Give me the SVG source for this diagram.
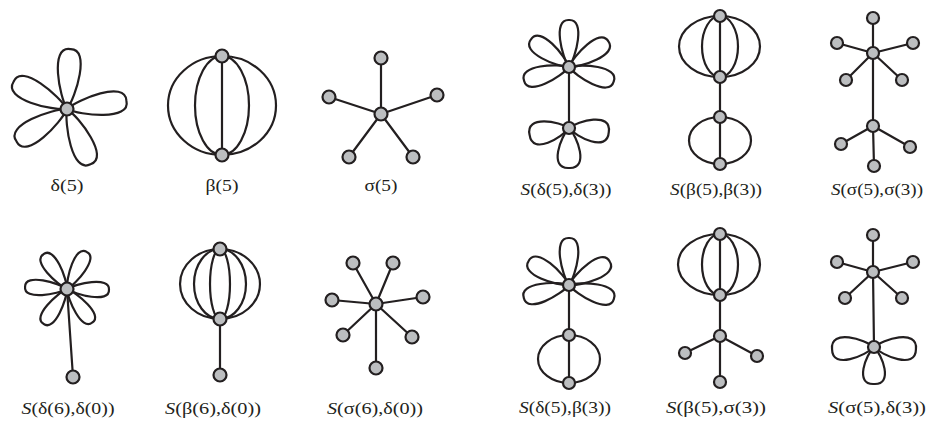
<svg xmlns="http://www.w3.org/2000/svg" xmlns:xlink="http://www.w3.org/1999/xlink" width="928" height="425" viewBox="0 0 928 425">
<style>
.e{fill:none;stroke:#231f20;stroke-width:2.2;stroke-linecap:round}
.v{fill:#bcbec0;stroke:#231f20;stroke-width:2.2}
.t{font-family:"Liberation Serif","Times New Roman",serif;font-size:17px;fill:#231f20;text-anchor:middle}
.i{font-style:italic}
</style>
<defs>
<path id="p60" d="M0,0 C12,-8 62,-21 60,0 C62,21 12,8 0,0"/>
<path id="p47" d="M0,0 C9.4,-6.8 48,-17 47,0 C48,17 9.4,6.8 0,0"/>
<path id="p40" d="M0,0 C8,-8 41,-21 40,0 C41,21 8,8 0,0"/>
<path id="p42" d="M0,0 C8.4,-8 43,-21 42,0 C43,21 8.4,8 0,0"/>
<path id="p37" d="M0,0 C7.4,-8 38,-20 37,0 C38,20 7.4,8 0,0"/>
<path id="p6" d="M0,0 C8.4,-5.6 43,-14 42,0 C43,14 8.4,5.6 0,0"/>
</defs>
<rect width="928" height="425" fill="#fff"/>

<!-- delta(5) -->
<g id="delta5">
<g class="edges e">
<use href="#p60" transform="translate(67,109) rotate(-87)"/>
<use href="#p60" transform="translate(67,109) rotate(-153)"/>
<use href="#p60" transform="translate(67,109) rotate(-8)"/>
<use href="#p60" transform="translate(67,109) rotate(-213)"/>
<use href="#p60" transform="translate(67,109) rotate(-293)"/>
</g>
<circle class="v" cx="67" cy="109" r="6.5"/>
<text class="t" x="67" y="191" textLength="33" lengthAdjust="spacingAndGlyphs">δ(5)</text>
</g>

<!-- beta(5) -->
<g id="beta5">
<g class="edges e">
<path d="M222,56 L222,155"/>
<path d="M222,56 A27,49.5 0 0 1 222,155"/>
<path d="M222,56 A27,49.5 0 0 0 222,155"/>
<path d="M222,56 A54,49.5 0 0 1 222,155"/>
<path d="M222,56 A54,49.5 0 0 0 222,155"/>
</g>
<circle class="v" cx="222" cy="56" r="6.5"/>
<circle class="v" cx="222" cy="155" r="6.5"/>
<text class="t" x="222" y="191" textLength="33" lengthAdjust="spacingAndGlyphs">β(5)</text>
</g>

<!-- sigma(5) -->
<g id="sigma5">
<g class="edges e">
<path d="M381,114 L381,58 M381,114 L329,97 M381,114 L437,95 M381,114 L349,157 M381,114 L413,157"/>
</g>
<circle class="v" cx="381" cy="114" r="6.5"/>
<circle class="v" cx="381" cy="58" r="6.5"/>
<circle class="v" cx="329" cy="97" r="6.5"/>
<circle class="v" cx="437" cy="95" r="6.5"/>
<circle class="v" cx="349" cy="157" r="6.5"/>
<circle class="v" cx="413" cy="157" r="6.5"/>
<text class="t" x="381" y="191" textLength="33" lengthAdjust="spacingAndGlyphs">σ(5)</text>
</g>

<!-- S(delta5,delta3) -->
<g id="S-d5-d3">
<g class="edges e">
<use href="#p47" transform="translate(569,67) rotate(-90)"/>
<use href="#p47" transform="translate(569,67) rotate(-33)"/>
<use href="#p47" transform="translate(569,67) rotate(18)"/>
<use href="#p47" transform="translate(569,67) rotate(-197)"/>
<use href="#p47" transform="translate(569,67) rotate(-144)"/>
<path d="M569,67 L569,128"/>
<use href="#p40" transform="translate(569,128) rotate(-190)"/>
<use href="#p40" transform="translate(569,128) rotate(6)"/>
<use href="#p40" transform="translate(569,128) rotate(90)"/>
</g>
<circle class="v" cx="569" cy="67" r="6"/>
<circle class="v" cx="569" cy="128" r="6"/>
<text class="t" x="566" y="195" textLength="91" lengthAdjust="spacingAndGlyphs"><tspan class="i">S</tspan>(δ(5),δ(3))</text>
</g>

<!-- S(beta5,beta3) -->
<g id="S-b5-b3">
<g class="edges e">
<path d="M720,16 L720,164"/>
<path d="M720,16 A18,30.5 0 0 1 720,77"/>
<path d="M720,16 A18,30.5 0 0 0 720,77"/>
<path d="M720,16 A40,30.5 0 0 1 720,77"/>
<path d="M720,16 A41,30.5 0 0 0 720,77"/>
<path d="M720,117 A31,23.5 0 0 1 720,164"/>
<path d="M720,117 A31,23.5 0 0 0 720,164"/>
</g>
<circle class="v" cx="720" cy="16" r="6"/>
<circle class="v" cx="720" cy="77" r="6"/>
<circle class="v" cx="720" cy="117" r="6"/>
<circle class="v" cx="720" cy="164" r="6"/>
<text class="t" x="716" y="195" textLength="92" lengthAdjust="spacingAndGlyphs"><tspan class="i">S</tspan>(β(5),β(3))</text>
</g>

<!-- S(sigma5,sigma3) -->
<g id="S-s5-s3">
<g class="edges e">
<path d="M873,53 L873,18 M873,53 L837,43 M873,53 L913,43 M873,53 L846,80 M873,53 L902,80 M873,53 L873,126 M873,126 L841,144 M873,126 L910,147 M873,126 L874,166"/>
</g>
<circle class="v" cx="873" cy="53" r="6"/>
<circle class="v" cx="873" cy="18" r="6"/>
<circle class="v" cx="837" cy="43" r="6"/>
<circle class="v" cx="913" cy="43" r="6"/>
<circle class="v" cx="846" cy="80" r="6"/>
<circle class="v" cx="902" cy="80" r="6"/>
<circle class="v" cx="873" cy="126" r="6"/>
<circle class="v" cx="841" cy="144" r="6"/>
<circle class="v" cx="910" cy="147" r="6"/>
<circle class="v" cx="874" cy="166" r="6"/>
<text class="t" x="877" y="195" textLength="92" lengthAdjust="spacingAndGlyphs"><tspan class="i">S</tspan>(σ(5),σ(3))</text>
</g>

<!-- S(delta6,delta0) -->
<g id="S-d6-d0">
<g class="edges e">
<use href="#p6" transform="translate(67,289) rotate(-124)"/>
<use href="#p6" transform="translate(67,289) rotate(-62)"/>
<use href="#p6" transform="translate(67,289) rotate(-177)"/>
<use href="#p6" transform="translate(67,289) rotate(1)"/>
<use href="#p6" transform="translate(67,289) rotate(-236)"/>
<use href="#p6" transform="translate(67,289) rotate(53)"/>
<path d="M67,289 L73,377"/>
</g>
<circle class="v" cx="67" cy="289" r="6.5"/>
<circle class="v" cx="73" cy="377" r="6.5"/>
<text class="t" x="68" y="414" textLength="93" lengthAdjust="spacingAndGlyphs"><tspan class="i">S</tspan>(δ(6),δ(0))</text>
</g>

<!-- S(beta6,delta0) -->
<g id="S-b6-d0">
<g class="edges e">
<path d="M220,249 A10,35 0 0 1 220,319"/>
<path d="M220,249 A10,35 0 0 0 220,319"/>
<path d="M220,249 A26,35 0 0 1 220,319"/>
<path d="M220,249 A26,35 0 0 0 220,319"/>
<path d="M220,249 A40,35 0 0 1 220,319"/>
<path d="M220,249 A40,35 0 0 0 220,319"/>
<path d="M220,319 L220,375"/>
</g>
<circle class="v" cx="220" cy="249" r="6.5"/>
<circle class="v" cx="220" cy="319" r="6.5"/>
<circle class="v" cx="220" cy="375" r="6.5"/>
<text class="t" x="213" y="414" textLength="96" lengthAdjust="spacingAndGlyphs"><tspan class="i">S</tspan>(β(6),δ(0))</text>
</g>

<!-- S(sigma6,delta0) -->
<g id="S-s6-d0">
<g class="edges e">
<path d="M376,304 L353,263 M376,304 L393,263 M376,304 L332,300 M376,304 L423,297 M376,304 L343,335 M376,304 L412,337 M376,304 L376,368"/>
</g>
<circle class="v" cx="376" cy="304" r="6.5"/>
<circle class="v" cx="353" cy="263" r="6.5"/>
<circle class="v" cx="393" cy="263" r="6.5"/>
<circle class="v" cx="332" cy="300" r="6.5"/>
<circle class="v" cx="423" cy="297" r="6.5"/>
<circle class="v" cx="343" cy="335" r="6.5"/>
<circle class="v" cx="412" cy="337" r="6.5"/>
<circle class="v" cx="376" cy="368" r="6.5"/>
<text class="t" x="375" y="414" textLength="96" lengthAdjust="spacingAndGlyphs"><tspan class="i">S</tspan>(σ(6),δ(0))</text>
</g>

<!-- S(delta5,beta3) -->
<g id="S-d5-b3">
<g class="edges e">
<use href="#p47" transform="translate(569,285) rotate(-90)"/>
<use href="#p47" transform="translate(569,285) rotate(-30)"/>
<use href="#p47" transform="translate(569,285) rotate(17)"/>
<use href="#p47" transform="translate(569,285) rotate(-196)"/>
<use href="#p47" transform="translate(569,285) rotate(-149)"/>
<path d="M569,285 L569,383"/>
<path d="M569,335 A31,24 0 0 1 569,383"/>
<path d="M569,335 A31,24 0 0 0 569,383"/>
</g>
<circle class="v" cx="569" cy="285" r="6"/>
<circle class="v" cx="569" cy="335" r="6"/>
<circle class="v" cx="569" cy="383" r="6"/>
<text class="t" x="565" y="413" textLength="92" lengthAdjust="spacingAndGlyphs"><tspan class="i">S</tspan>(δ(5),β(3))</text>
</g>

<!-- S(beta5,sigma3) -->
<g id="S-b5-s3">
<g class="edges e">
<path d="M720,234 L720,336"/>
<path d="M720,234 A18,30.5 0 0 1 720,295"/>
<path d="M720,234 A18,30.5 0 0 0 720,295"/>
<path d="M720,234 A40,30.5 0 0 1 720,295"/>
<path d="M720,234 A42,30.5 0 0 0 720,295"/>
<path d="M720,336 L685,353 M720,336 L757,356 M720,336 L720,382"/>
</g>
<circle class="v" cx="720" cy="234" r="6"/>
<circle class="v" cx="720" cy="295" r="6"/>
<circle class="v" cx="720" cy="336" r="6"/>
<circle class="v" cx="685" cy="353" r="6"/>
<circle class="v" cx="757" cy="356" r="6"/>
<circle class="v" cx="720" cy="382" r="6"/>
<text class="t" x="716" y="413" textLength="100" lengthAdjust="spacingAndGlyphs"><tspan class="i">S</tspan>(β(5),σ(3))</text>
</g>

<!-- S(sigma5,delta3) -->
<g id="S-s5-d3">
<g class="edges e">
<path d="M873,272 L873,235 M873,272 L837,262 M873,272 L913,262 M873,272 L845,298 M873,272 L902,298 M873,272 L874,347"/>
<use href="#p42" transform="translate(874,347) rotate(-183)"/>
<use href="#p42" transform="translate(874,347) rotate(3)"/>
<use href="#p37" transform="translate(874,347) rotate(90)"/>
</g>
<circle class="v" cx="873" cy="272" r="6"/>
<circle class="v" cx="873" cy="235" r="6"/>
<circle class="v" cx="837" cy="262" r="6"/>
<circle class="v" cx="913" cy="262" r="6"/>
<circle class="v" cx="845" cy="298" r="6"/>
<circle class="v" cx="902" cy="298" r="6"/>
<circle class="v" cx="874" cy="347" r="6"/>
<text class="t" x="877" y="413" textLength="98" lengthAdjust="spacingAndGlyphs"><tspan class="i">S</tspan>(σ(5),δ(3))</text>
</g>
</svg>
